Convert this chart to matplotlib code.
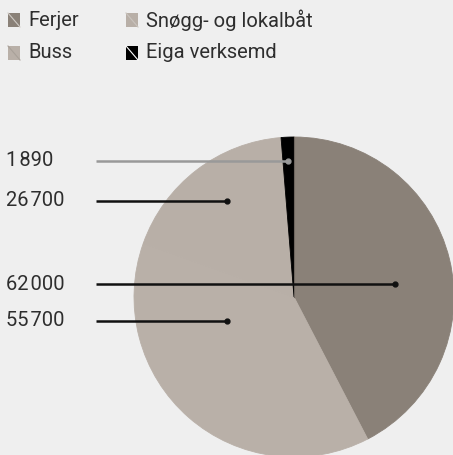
import matplotlib.pyplot as plt
from matplotlib.patches import Rectangle

plt.rcParams['font.family'] = ['Roboto', 'DejaVu Sans']

# data
categories = ['Ferjer', 'Buss', 'Snøgg- og lokalbåt', 'Eiga verksemd']
values = [62000, 55700, 26700, 1890]
colors = ['#8a8178', '#b9b0a8', '#b8afa7', '#000000']
value_labels = ['62\u200a000', '55\u200a700', '26\u200a700', '1\u200a890']

# label placement (pixels from top-left) and leader line colours
label_y = [284, 321, 201, 161]
dot_x = [395, 227, 227, 288]
line_colors = ['#111111', '#111111', '#111111', '#999999']

W, H = 453, 455
bg = '#efefef'
fig = plt.figure(figsize=(W / 100, H / 100), dpi=100, facecolor=bg)
ax = fig.add_axes([0, 0, 1, 1])
ax.set_facecolor(bg)

cx, cy, r = 294, 297, 160
wedges, _ = ax.pie(values, colors=colors, startangle=90, counterclock=False,
                   center=(cx, H - cy), radius=r)
for w in wedges:
    w.set_edgecolor(w.get_facecolor())
    w.set_linewidth(0.6)
ax.set_xlim(0, W)
ax.set_ylim(0, H)
ax.set_aspect('equal')
ax.axis('off')

# center boundary line at the top
ax.plot([cx, cx], [H - cy, H - cy + r], color='#6e665f', lw=0.8)

for txt, y, x1, lc in zip(value_labels, label_y, dot_x, line_colors):
    ax.text(6, H - y, txt, fontsize=14.5, color='#2e2e2e', va='center',
            ha='left')
    ax.plot([96, x1], [H - y, H - y], color=lc, lw=1.8, solid_capstyle='butt')
    ax.plot([x1], [H - y], 'o', color=lc, markersize=3.5)

# legend
legend_pos = [(8, 13), (8, 46), (126, 13), (126, 46)]
diag = ['#cfcac5', '#a9a199', '#c9c3be', '#ffffff']
for (lx, ly), name, c, dc in zip(legend_pos, categories, colors, diag):
    ax.add_patch(Rectangle((lx, H - ly - 14), 12, 14, color=c, lw=0))
    ax.plot([lx, lx + 12], [H - ly, H - ly - 14], color=dc, lw=0.8)
    ax.text(lx + 20, H - ly - 7, name, fontsize=14.5, color='#2e2e2e',
            va='center', ha='left')

fig.savefig('out.png', dpi=100, facecolor=bg)
